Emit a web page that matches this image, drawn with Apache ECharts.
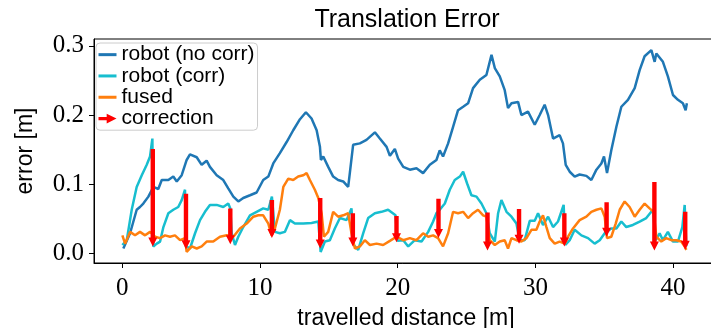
<!DOCTYPE html>
<html>
<head>
<meta charset="utf-8">
<script src="https://cdn.jsdelivr.net/npm/echarts@6/dist/echarts.min.js"></script>
<style>
html,body{margin:0;padding:0;background:#fff;}
#chart{width:711px;height:328px;}
</style>
</head>
<body>
<div id="chart"></div>
<script>
// ---- data (travelled distance [m], error [m]) ----
const noCorrX = [0.07,0.56,1.04,1.28,1.52,1.89,2.25,2.61,2.86,3.34,3.7,3.95,4.31,4.67,4.91,5.4,5.76,6.12,6.36,6.85,7.33,7.69,8.06,8.42,8.78,9.27,9.75,10.23,10.6,10.96,11.44,11.93,12.41,12.9,13.33,13.74,14.11,14.35,14.42,14.59,14.95,15.31,15.67,16.04,16.4,16.52,16.76,17.25,17.73,18.34,18.7,19.19,19.43,19.79,20.03,20.4,20.88,21.36,21.84,22.33,22.81,23.05,23.29,23.66,24.02,24.38,24.75,25.11,25.47,25.96,26.44,26.81,27.05,27.41,27.77,28.01,28.26,28.74,28.98,29.46,29.95,30.31,30.67,30.92,31.28,31.76,32.0,32.2,32.49,32.85,33.21,33.7,34.06,34.43,34.79,34.98,35.2,35.51,35.88,36.24,36.72,37.21,37.57,37.93,38.42,38.66,38.78,39.26,39.62,39.99,40.35,40.71,40.91,41.0];
const noCorrY = [0.007,0.029,0.063,0.067,0.072,0.082,0.096,0.093,0.106,0.106,0.111,0.104,0.113,0.135,0.143,0.139,0.128,0.134,0.125,0.113,0.106,0.094,0.082,0.075,0.080,0.084,0.088,0.106,0.111,0.130,0.145,0.161,0.178,0.194,0.204,0.195,0.178,0.154,0.135,0.140,0.125,0.111,0.106,0.104,0.096,0.116,0.157,0.159,0.164,0.175,0.166,0.154,0.141,0.151,0.137,0.125,0.121,0.123,0.116,0.128,0.135,0.149,0.140,0.159,0.183,0.207,0.212,0.217,0.239,0.251,0.258,0.287,0.268,0.256,0.236,0.210,0.217,0.219,0.200,0.205,0.186,0.200,0.215,0.200,0.166,0.171,0.159,0.128,0.118,0.111,0.114,0.112,0.106,0.121,0.130,0.140,0.116,0.149,0.183,0.212,0.222,0.239,0.265,0.285,0.294,0.277,0.289,0.277,0.256,0.229,0.222,0.217,0.207,0.217];

const corrX = [0.0,0.32,0.68,1.04,1.41,1.77,2.01,2.18,2.25,2.5,2.74,2.98,3.34,3.7,4.06,4.31,4.55,4.62,4.91,5.28,5.64,6.0,6.36,6.85,7.33,7.69,7.84,7.94,8.18,8.42,8.78,9.27,9.75,10.23,10.6,10.86,11.08,11.44,11.8,12.17,12.53,13.14,13.74,14.23,14.4,14.71,15.07,15.43,15.8,16.28,16.64,16.81,17.13,17.49,17.85,18.34,18.82,19.3,19.84,19.98,20.4,20.76,21.24,21.73,22.21,22.57,22.81,23.05,23.42,23.78,24.14,24.51,24.75,25.04,25.35,25.72,26.08,26.44,26.68,27.05,27.29,27.53,27.9,28.26,28.62,28.86,29.22,29.59,29.95,30.19,30.55,30.92,31.28,31.64,32.05,32.17,32.49,32.85,33.34,33.82,34.3,34.67,35.03,35.51,35.88,36.24,36.6,37.08,37.57,38.05,38.53,38.73,39.02,39.26,39.62,39.99,40.35,40.67,40.84,40.96];
const corrY = [0.012,0.019,0.063,0.096,0.113,0.128,0.140,0.166,0.010,0.014,0.017,0.038,0.058,0.063,0.067,0.077,0.092,0.010,0.007,0.029,0.048,0.060,0.070,0.070,0.067,0.072,0.065,0.029,0.012,0.024,0.038,0.055,0.060,0.065,0.063,0.082,0.031,0.029,0.031,0.048,0.043,0.043,0.044,0.046,0.002,0.017,0.019,0.036,0.051,0.048,0.065,0.012,0.005,0.029,0.051,0.058,0.060,0.063,0.055,0.018,0.019,0.010,0.019,0.017,0.031,0.046,0.058,0.063,0.072,0.092,0.106,0.111,0.118,0.101,0.084,0.082,0.072,0.058,0.029,0.017,0.058,0.077,0.060,0.053,0.043,0.019,0.019,0.047,0.047,0.058,0.041,0.053,0.038,0.046,0.070,0.012,0.019,0.034,0.026,0.022,0.014,0.019,0.029,0.036,0.036,0.046,0.038,0.041,0.046,0.051,0.063,0.019,0.029,0.019,0.031,0.017,0.017,0.038,0.070,0.010];

const fusedX = [0.0,0.2,0.56,0.92,1.28,1.65,2.01,2.37,2.74,3.1,3.46,3.82,4.19,4.55,4.67,5.04,5.4,5.76,6.12,6.6,7.09,7.58,8.06,8.54,9.03,9.51,9.87,10.23,10.6,10.84,11.08,11.44,11.69,12.05,12.41,12.77,13.14,13.38,13.62,13.98,14.23,14.47,14.64,14.95,15.31,15.67,16.04,16.4,16.64,16.89,17.25,17.61,17.98,18.46,18.94,19.43,19.91,20.4,20.88,21.36,21.84,22.21,22.57,22.93,23.29,23.66,24.02,24.38,24.75,25.11,25.47,25.83,26.2,26.44,26.68,27.05,27.41,27.77,28.01,28.26,28.62,28.98,29.35,29.71,30.07,30.31,30.55,30.8,31.04,31.4,31.76,32.13,32.37,32.73,33.21,33.7,34.06,34.43,34.79,35.03,35.2,35.51,35.83,36.12,36.48,36.84,37.21,37.57,37.93,38.29,38.58,38.78,39.14,39.5,39.87,40.23,40.59,40.84,40.96];
const fusedY = [0.026,0.014,0.031,0.026,0.031,0.026,0.031,0.024,0.022,0.026,0.024,0.026,0.019,0.022,0.002,0.010,0.007,0.010,0.017,0.017,0.024,0.026,0.024,0.036,0.043,0.053,0.055,0.055,0.043,0.026,0.036,0.063,0.096,0.108,0.106,0.111,0.113,0.116,0.106,0.092,0.080,0.058,0.024,0.031,0.060,0.053,0.055,0.058,0.029,0.007,0.010,0.019,0.012,0.014,0.012,0.018,0.024,0.019,0.022,0.019,0.029,0.024,0.026,0.022,0.010,0.029,0.060,0.058,0.060,0.051,0.058,0.063,0.055,0.053,0.019,0.012,0.017,0.019,0.007,0.022,0.019,0.017,0.022,0.034,0.034,0.046,0.055,0.038,0.022,0.014,0.017,0.014,0.024,0.036,0.048,0.053,0.060,0.063,0.065,0.053,0.022,0.024,0.043,0.063,0.075,0.067,0.053,0.063,0.072,0.065,0.060,0.024,0.017,0.022,0.019,0.019,0.017,0.010,0.005];

const correctionX      = [2.21,4.62,7.84,10.86,14.37,16.74,19.91,22.96,26.52,28.81,32.1,35.17,38.64,40.88];
const correctionFrom   = [0.151,0.086,0.065,0.077,0.080,0.058,0.054,0.079,0.059,0.064,0.058,0.074,0.103,0.060];
const correctionTo     = [0.010,0.006,0.013,0.022,0.007,0.010,0.016,0.022,0.004,0.014,0.010,0.024,0.004,0.005];

const xTicks = [0,10,20,30,40];
const yTicks = [0,0.1,0.2,0.3];

const zip = (a,b) => a.map((v,i)=>[v,b[i]]);

const SANS = 'Liberation Sans';
const SERIF = 'Liberation Serif';

const chart = echarts.init(document.getElementById('chart'), null, {renderer:'canvas'});
const option = {
  animation:false,
  backgroundColor:'#fff',
  grid:{left:94, top:39, width:624, height:224, show:true, borderColor:'#000', borderWidth:1,
        backgroundColor:'transparent', containLabel:false, outerBoundsMode:'none'},
  graphic:[{
    type:'text', x:407, y:20, z:100,
    style:{text:'Translation Error', textAlign:'center', textVerticalAlign:'middle', font:'25px "'+SANS+'"', fill:'#000'}
  }],
  legend:{
    orient:'vertical', left:96, top:43, padding:[1,3,1,1], itemGap:0, itemWidth:18, itemHeight:12,
    backgroundColor:'rgba(255,255,255,0.8)', borderColor:'#cccccc', borderWidth:1, borderRadius:4,
    itemStyle:{opacity:0},
    lineStyle:{width:3},
    textStyle:{fontFamily:SANS, fontSize:21, color:'#000', lineHeight:21.3},
    data:[
      {name:'robot (no corr)'},
      {name:'robot (corr)'},
      {name:'fused'},
      {name:'correction', icon:'path://M0,4L10,4L10,0L22,6L10,12L10,8L0,8Z', itemStyle:{color:'#ff0000', opacity:1}}
    ]
  },
  xAxis:{
    type:'value', min:-2.06, max:43.26,
    axisLine:{show:true, onZero:false, lineStyle:{color:'#000', width:1}},
    axisTick:{show:true, customValues:xTicks, length:5, lineStyle:{color:'#000', width:1}},
    axisLabel:{customValues:xTicks, fontFamily:SERIF, fontSize:25, color:'#000', margin:13},
    splitLine:{show:false},
    name:'travelled distance [m]', nameLocation:'middle', nameGap:44,
    nameTextStyle:{fontFamily:SANS, fontSize:23, color:'#000'}
  },
  yAxis:{
    type:'value', min:-0.014, max:0.31,
    axisLine:{show:true, onZero:false, lineStyle:{color:'#000', width:1}},
    axisTick:{show:true, customValues:yTicks, length:5, lineStyle:{color:'#000', width:1}},
    axisLabel:{customValues:yTicks, fontFamily:SERIF, fontSize:25, color:'#000', margin:10, formatter:v=>v.toFixed(1)},
    splitLine:{show:false},
    name:'error [m]', nameLocation:'middle', nameGap:57, nameRotate:90,
    nameTextStyle:{fontFamily:SANS, fontSize:23, color:'#000'}
  },
  series:[
    {name:'robot (no corr)', type:'line', data:zip(noCorrX,noCorrY), symbol:'none', showSymbol:false, z:2,
     lineStyle:{color:'#1f77b4', width:2.5}, itemStyle:{color:'#1f77b4'}},
    {name:'robot (corr)', type:'line', data:zip(corrX,corrY), symbol:'none', showSymbol:false, z:3,
     lineStyle:{color:'#17becf', width:2.5}, itemStyle:{color:'#17becf'}},
    {name:'fused', type:'line', data:zip(fusedX,fusedY), symbol:'none', showSymbol:false, z:4,
     lineStyle:{color:'#ff7f0e', width:2.5}, itemStyle:{color:'#ff7f0e'}},
    {name:'correction', type:'custom', z:5, itemStyle:{color:'#ff0000'},
     data:correctionX.map((x,i)=>[x,correctionFrom[i],correctionTo[i]]),
     encode:{x:0, y:[1,2]},
     renderItem:function(params, api){
       const x=api.value(0), top=api.value(1), bot=api.value(2);
       const p1=api.coord([x,top]), p2=api.coord([x,bot]);
       const hw=2.2, hh=4.5, hl=9, cx=p1[0];
       return {type:'polygon', shape:{points:[
         [cx-hw,p1[1]],[cx+hw,p1[1]],[cx+hw,p2[1]-hl],[cx+hh,p2[1]-hl],[cx,p2[1]],[cx-hh,p2[1]-hl],[cx-hw,p2[1]-hl]
       ]}, style:{fill:'#ff0000'}};
     }}
  ]
};
chart.setOption(option);
</script>
</body>
</html>
